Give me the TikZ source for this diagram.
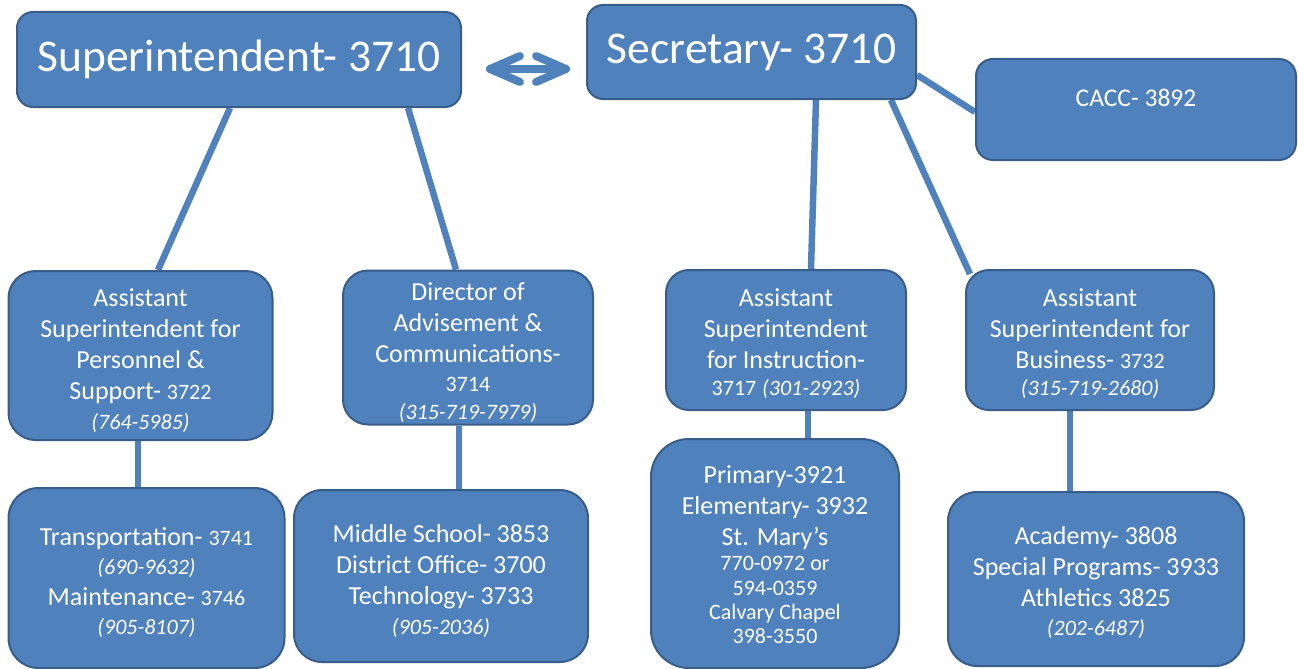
\documentclass[tikz,border=0pt]{standalone}
\usepackage{fontspec}
\setmainfont{Carlito}
\usetikzlibrary{backgrounds,calc}
\definecolor{boxfill}{HTML}{4F81BD}
\definecolor{boxline}{HTML}{385D8A}
\definecolor{linkcol}{HTML}{4F81BD}
\newcommand\fbig{\fontsize{45.5}{52}\selectfont}
\newcommand\fmid{\fontsize{26}{31}\selectfont}
\newcommand\fsm{\fontsize{22}{31}\selectfont}
\newcommand\phn[1]{{\fontsize{22}{31}\selectfont\itshape #1}}
\newcommand\dg[1]{{\fsm #1}}
\newcommand\fl[1]{\rule{0pt}{#1}}
\begin{document}
\begin{tikzpicture}[x=1pt,y=-1pt,
  orgbox/.style={draw=boxline, line width=2pt, fill=boxfill, text=white,
    align=center, inner sep=0pt, rounded corners=#1},
  sz/.style 2 args={minimum width=#1pt, minimum height=#2pt},
  link/.style={draw=linkcol, line width=6.5pt},
  dblarrow/.style={draw=linkcol, line width=8pt, line cap=round, line join=round}]
\useasboundingbox (0,0) rectangle (1298,669);

% top row
\node[orgbox=16pt, sz={444}{95}, font=\fbig] (sup) at (239,59.5) {Superintendent- 3710};
\node[orgbox=16pt, sz={329}{94}, font=\fbig] (sec) at (751.5,52) {Secretary- 3710};
\node[orgbox=17pt, sz={320}{101}, font=\fontsize{25.5}{30}\selectfont,
      text height=16pt, text depth=23pt] (cacc) at (1136,109.5) {CACC- 3892};

% middle row
\node[orgbox=27pt, sz={264}{169}, font=\fmid] (aps) at (140.5,355.5)
  {\fl{28pt}Assistant\\Superintendent for\\Personnel \&\\Support- \dg{3722}\\[-1pt]\phn{(764-5985)}};
\node[orgbox=25pt, sz={250}{154}, font=\fmid] (dac) at (468,347.5)
  {\fl{28pt}Director of\\Advisement \&\\Communications-\\[-2pt]\dg{3714}\\[-3pt]\phn{(315-719-7979)}};
\node[orgbox=23pt, sz={240}{140}, font=\fmid] (asi) at (786,340)
  {\fl{26pt}Assistant\\Superintendent\\for Instruction-\\[-4pt]\dg{3717} \phn{(301-2923)}};
\node[orgbox=23pt, sz={248}{140}, font=\fmid] (asb) at (1090,340)
  {\fl{26pt}Assistant\\Superintendent for\\Business- \dg{3732}\\[-4pt]\phn{(315-719-2680)}};

% bottom row
\node[orgbox=30pt, sz={276}{180}, font=\fmid] (trn) at (146.5,578)
  {\fl{28pt}Transportation- \dg{3741}\\[-2pt]\phn{(690-9632)}\\Maintenance- \dg{3746}\\[-2pt]\phn{(905-8107)}};
\node[orgbox=28pt, sz={294}{172}, font=\fmid] (msc) at (441,576)
  {\fl{29pt}Middle School- 3853\\District Office- 3700\\Technology- 3733\\[-1pt]\phn{(905-2036)}};
\node[orgbox=38pt, sz={248}{229}, font=\fmid] (prm) at (775,553.5)
  {\fl{21pt}Primary-3921\\Elementary- 3932\\St. Mary’s\\[-6pt]{\fsm 770-0972 or}\\[-6pt]{\fsm 594-0359}\\[-7pt]{\fsm Calvary Chapel}\\[-7pt]{\fsm 398-3550}};
\node[orgbox=29pt, sz={296}{174}, font=\fmid] (acd) at (1096,579)
  {\fl{25pt}Academy- 3808\\Special Programs- 3933\\Athletics 3825\\[-2pt]\phn{(202-6487)}};

% connectors
\begin{scope}[on background layer]
\draw[link] ([xshift=-9pt]sup.south) -- ([xshift=17.5pt]aps.north);
\draw[link] ([xshift=169pt]sup.south) -- ([xshift=-12pt]dac.north);
\draw[link] ([xshift=64.5pt]sec.south) -- ([xshift=25pt]asi.north);
\draw[link] ([xshift=139.5pt]sec.south) -- ([xshift=5pt,yshift=-5pt]asb.north west);
\draw[link] ([yshift=-23pt]sec.east) -- ([yshift=-2.5pt]cacc.west);
\draw[link] ([xshift=-2.5pt]aps.south) -- ([xshift=-2.5pt]aps.south |- trn.north);
\draw[link] ([xshift=-9pt]dac.south) -- ([xshift=-9pt]dac.south |- msc.north);
\draw[link] ([xshift=22pt]asi.south) -- ([xshift=22pt]asi.south |- prm.north);
\draw[link] ([xshift=-20pt]asb.south) -- ([xshift=-20pt]asb.south |- acd.north);
\end{scope}

% double arrow between superintendent and secretary
\coordinate (arL) at ([xshift=28pt,yshift=-9.5pt]sup.east);
\coordinate (arR) at ([xshift=-20pt,yshift=-17pt]sec.west);
\draw[dblarrow] (arL) -- (arR);
\draw[dblarrow] ($(arL)+(30,-13)$) -- (arL) -- ($(arL)+(30,13)$);
\draw[dblarrow] ($(arR)+(-30,-13)$) -- (arR) -- ($(arR)+(-30,13)$);
\end{tikzpicture}
\end{document}
